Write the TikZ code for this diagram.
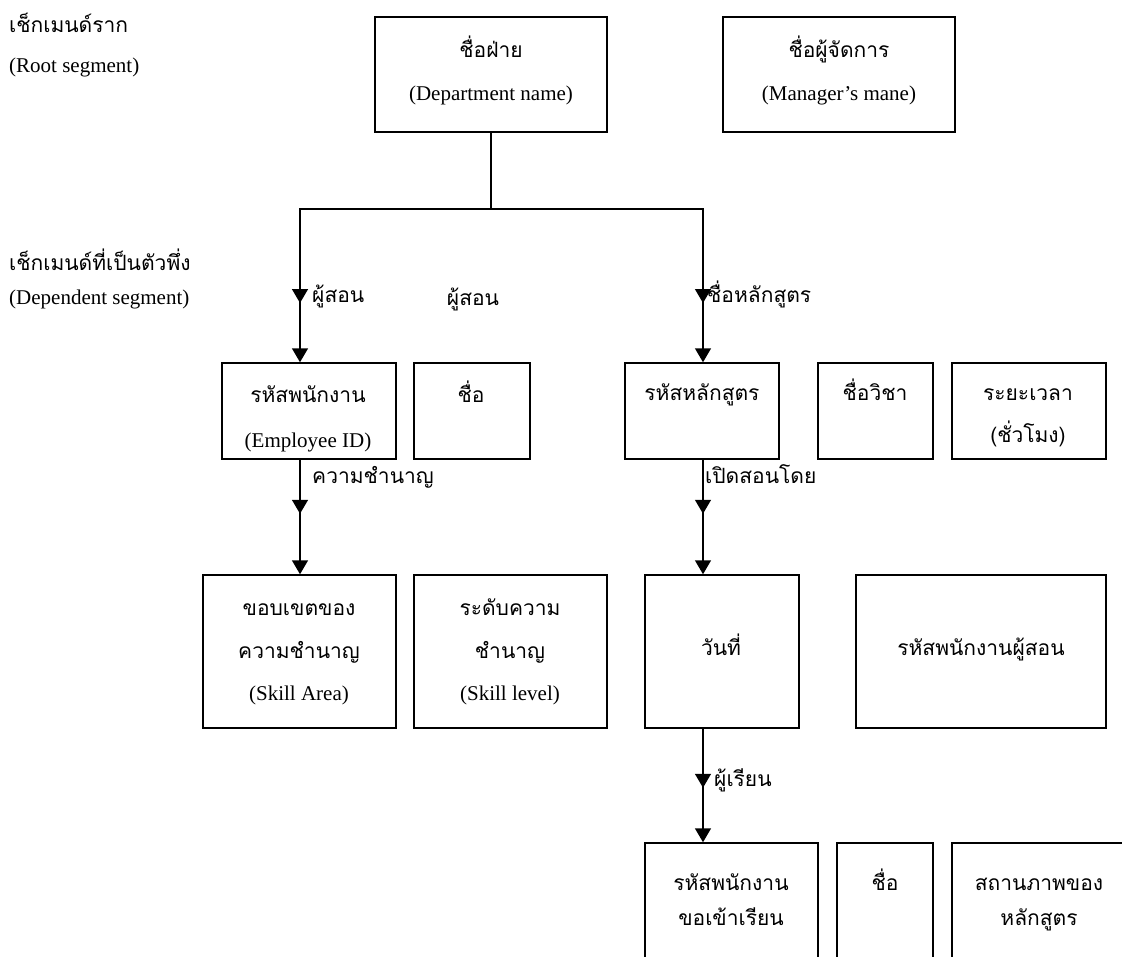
\documentclass[tikz,border=0pt]{standalone}
\usepackage{fontspec}
\setmainfont{Liberation Serif}
\newfontfamily\thaifont[Script=Thai]{Loma}
\usetikzlibrary{arrows.meta,decorations.markings}

\tikzset{
  box/.style={draw, line width=1.5pt, inner sep=0pt},
  lbl/.style={inner sep=0pt, text height=15pt, text depth=5pt,
    font=\fontsize{21}{25}\selectfont},
  th/.style={inner sep=0pt, text height=15pt, text depth=5pt,
    font=\thaifont\fontsize{21}{25}\selectfont},
  conn/.style={line width=1.5pt},
  tip/.style={-{Triangle[length=14pt,width=16pt]}},
  midtip/.style={postaction={decorate}, decoration={markings,
    mark=at position #1 with {\arrow{Triangle[length=14pt,width=16pt]}}}}
}

\begin{document}
\begin{tikzpicture}[x=1pt, y=-1pt]
\useasboundingbox (0,0) rectangle (1122,956);
\clip (0,0) rectangle (1122,956);

% level captions on the left
\node[th, anchor=west] (capRoot) at (9,27) {เช็กเมนด์ราก};
\node[lbl, anchor=west] (capRootEn) at (9,67) {(Root segment)};
\node[th, anchor=west] (capDep) at (9,265) {เช็กเมนด์ที่เป็นตัวพึ่ง};
\node[lbl, anchor=west] (capDepEn) at (9,299) {(Dependent segment)};

% root segment
\node[box, minimum width=232pt, minimum height=115pt] (dept) at (491,74.5) {};
\node[th] (deptA) at (491,52) {ชื่อฝ่าย};
\node[lbl] (deptB) at (491,95) {(Department name)};
\node[box, minimum width=232pt, minimum height=115pt] (mgr) at (839,74.5) {};
\node[th] (mgrA) at (839,52) {ชื่อผู้จัดการ};
\node[lbl] (mgrB) at (839,95) {(Manager’s mane)};

% second row
\node[box, minimum width=174pt, minimum height=96pt] (emp) at (309,411) {};
\node[th] (empA) at (308,397) {รหัสพนักงาน};
\node[lbl] (empB) at (308,442) {(Employee ID)};
\node[box, minimum width=116pt, minimum height=96pt] (nameA) at (472,411) {};
\node[th] (nameAt) at (471,397) {ชื่อ};
\node[box, minimum width=154pt, minimum height=96pt] (course) at (702,411) {};
\node[th] (courseA) at (702,395) {รหัสหลักสูตร};
\node[box, minimum width=115pt, minimum height=96pt] (subj) at (875.5,411) {};
\node[th] (subjA) at (875,395) {ชื่อวิชา};
\node[box, minimum width=154pt, minimum height=96pt] (dur) at (1029,411) {};
\node[th] (durA) at (1028,395) {ระยะเวลา};
\node[th] (durB) at (1028,437) {(ชั่วโมง)};

% third row
\node[box, minimum width=193pt, minimum height=153pt] (area) at (299.5,651.5) {};
\node[th] (areaA) at (299,610) {ขอบเขตของ};
\node[th] (areaB) at (299,653) {ความชำนาญ};
\node[lbl] (areaC) at (299,695) {(Skill Area)};
\node[box, minimum width=193pt, minimum height=153pt] (level) at (510.5,651.5) {};
\node[th] (levelA) at (510,610) {ระดับความ};
\node[th] (levelB) at (510,653) {ชำนาญ};
\node[lbl] (levelC) at (510,695) {(Skill level)};
\node[box, minimum width=154pt, minimum height=153pt] (date) at (722,651.5) {};
\node[th] (dateA) at (721,650) {วันที่};
\node[box, minimum width=250pt, minimum height=153pt] (teacher) at (981,651.5) {};
\node[th] (teacherA) at (981,650) {รหัสพนักงานผู้สอน};

% fourth row (runs past the lower edge)
\node[box, minimum width=173pt, minimum height=150pt] (enrol) at (731.5,918) {};
\node[th] (enrolA) at (731,885) {รหัสพนักงาน};
\node[th] (enrolB) at (731,920) {ขอเข้าเรียน};
\node[box, minimum width=96pt, minimum height=150pt] (nameB) at (885,918) {};
\node[th] (nameBt) at (885,885) {ชื่อ};
\node[box, minimum width=174pt, minimum height=150pt] (status) at (1039,918) {};
\node[th] (statusA) at (1039,885) {สถานภาพของ};
\node[th] (statusB) at (1039,920) {หลักสูตร};

% connectors
\coordinate (busL) at (300,209);
\coordinate (busR) at (703,209);
\coordinate (bus) at (dept.south |- busL);
\draw[conn] (dept.south) -- (bus);
\draw[conn, line cap=rect] (busL) -- (busR);
\draw[conn, tip, midtip=94pt] (busL) -- (busL |- emp.north);
\draw[conn, tip, midtip=94pt] (busR) -- (busR |- course.north);
\draw[conn, tip, midtip=54pt] (emp.south -| busL) -- (area.north -| busL);
\draw[conn, tip, midtip=54pt] (course.south -| busR) -- (date.north -| busR);
\draw[conn, tip, midtip=59pt] (date.south -| busR) -- (enrol.north -| busR);

% connector labels
\node[th, anchor=west] (lTeach) at (312,297) {ผู้สอน};
\node[th] (lTeach2) at (473,300) {ผู้สอน};
\node[th, anchor=west] (lCourse) at (707,297) {ชื่อหลักสูตร};
\node[th, anchor=west] (lSkill) at (312,478) {ความชำนาญ};
\node[th, anchor=west] (lOpen) at (705,478) {เปิดสอนโดย};
\node[th, anchor=west] (lLearn) at (714,781) {ผู้เรียน};
\end{tikzpicture}
\end{document}
